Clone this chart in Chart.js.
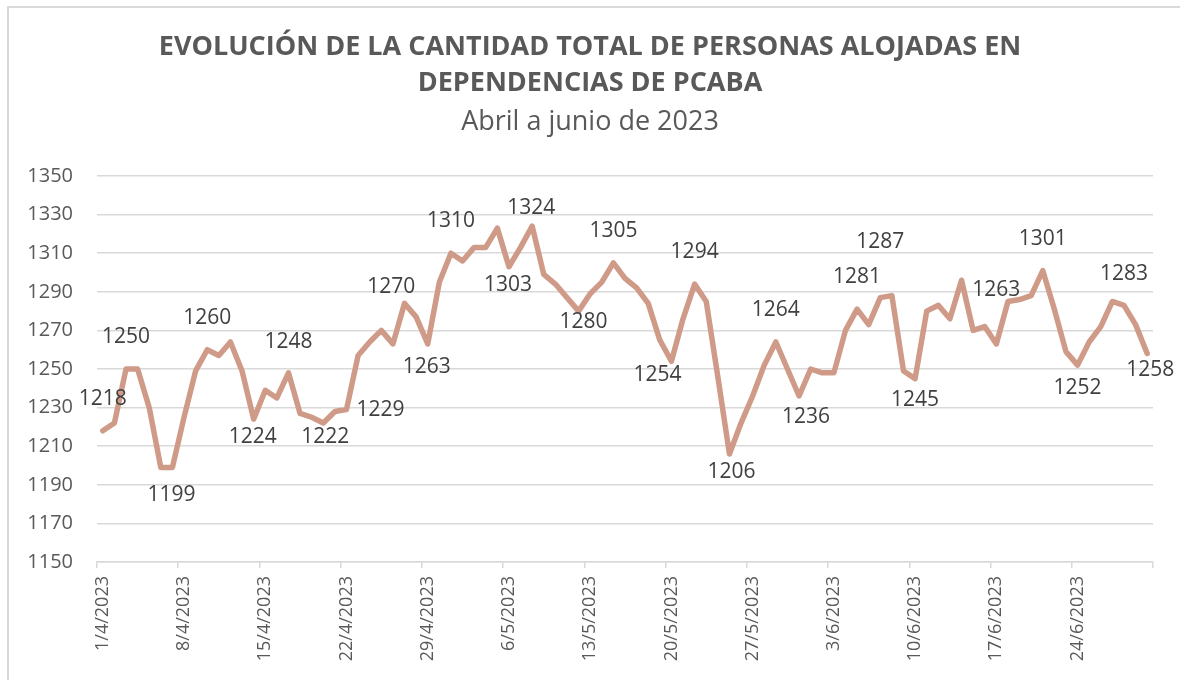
<!DOCTYPE html>
<html lang="es">
<head>
<meta charset="utf-8">
<title>Evolución de personas alojadas PCABA</title>
<script src="https://cdn.jsdelivr.net/npm/chart.js@4.4.1/dist/chart.umd.min.js"></script>
<style>
  html, body { margin: 0; padding: 0; background: #fff; overflow: hidden; }
  #frame {
    position: absolute; left: 7px; top: 6px; width: 1200px; height: 700px;
    border: 2px solid #d9d9d9; pointer-events: none;
  }
  #chart { position: absolute; left: 0; top: 0; }
</style>
</head>
<body>
<div id="frame"></div>
<canvas id="chart" width="1180" height="680"></canvas>
<script>
// Días del período (1/4/2023 - 30/6/2023)
const fechas = [
  '1/4/2023','2/4/2023','3/4/2023','4/4/2023','5/4/2023','6/4/2023','7/4/2023',
  '8/4/2023','9/4/2023','10/4/2023','11/4/2023','12/4/2023','13/4/2023','14/4/2023',
  '15/4/2023','16/4/2023','17/4/2023','18/4/2023','19/4/2023','20/4/2023','21/4/2023',
  '22/4/2023','23/4/2023','24/4/2023','25/4/2023','26/4/2023','27/4/2023','28/4/2023',
  '29/4/2023','30/4/2023','1/5/2023','2/5/2023','3/5/2023','4/5/2023','5/5/2023',
  '6/5/2023','7/5/2023','8/5/2023','9/5/2023','10/5/2023','11/5/2023','12/5/2023',
  '13/5/2023','14/5/2023','15/5/2023','16/5/2023','17/5/2023','18/5/2023','19/5/2023',
  '20/5/2023','21/5/2023','22/5/2023','23/5/2023','24/5/2023','25/5/2023','26/5/2023',
  '27/5/2023','28/5/2023','29/5/2023','30/5/2023','31/5/2023','1/6/2023','2/6/2023',
  '3/6/2023','4/6/2023','5/6/2023','6/6/2023','7/6/2023','8/6/2023','9/6/2023',
  '10/6/2023','11/6/2023','12/6/2023','13/6/2023','14/6/2023','15/6/2023','16/6/2023',
  '17/6/2023','18/6/2023','19/6/2023','20/6/2023','21/6/2023','22/6/2023','23/6/2023',
  '24/6/2023','25/6/2023','26/6/2023','27/6/2023','28/6/2023','29/6/2023','30/6/2023'
];

// Cantidad total de personas alojadas por día
const alojados = [
  1218, 1222, 1250, 1250, 1230, 1199, 1199, 1225, 1249, 1260, 1257, 1264, 1249, 1224,
  1239, 1235, 1248, 1227, 1225, 1222, 1228, 1229, 1257, 1264, 1270, 1263, 1284, 1277,
  1263, 1295, 1310, 1306, 1313, 1313, 1323, 1303, 1313, 1324, 1299, 1294, 1287, 1280,
  1289, 1295, 1305, 1297, 1292, 1284, 1265, 1254, 1276, 1294, 1285, 1246, 1206, 1222,
  1236, 1252, 1264, 1250, 1236, 1250, 1248, 1248, 1270, 1281, 1273, 1287, 1288, 1249,
  1245, 1280, 1283, 1276, 1296, 1270, 1272, 1263, 1285, 1286, 1288, 1301, 1281, 1259,
  1252, 1264, 1272, 1285, 1283, 1273, 1258
];

// Eje Y
const yMin = 1150;
const yMax = 1350;
const yPaso = 20;

// Días que llevan etiqueta de valor
const diasEtiquetados = [0, 2, 6, 9, 13, 16, 19, 21, 24, 28, 30, 35, 37, 41, 44, 49, 51, 54, 58, 60, 65, 67, 70, 77, 81, 84, 88, 90];

// Desplazamiento de cada etiqueta respecto del punto [dx, dy] en px
const desplazamientos = {
  0: [0, -32], 2: [0, -32], 6: [-1, 28], 9: [0, -32], 13: [-1, 18], 16: [0, -31],
  19: [2, 14], 21: [34, 0], 24: [10, -43], 28: [-1, 23], 30: [0, -32], 35: [-1, 18],
  37: [-1, -18], 41: [5, 11], 44: [0, -32], 49: [-14, 14], 51: [0, -32], 54: [2, 18],
  58: [0, -32], 60: [7, 21], 65: [0, -32], 67: [0, -56], 70: [0, 21], 77: [0, -54],
  81: [0, -32], 84: [0, 23], 88: [0, -31], 90: [3, 16]
};

const gris = '#595959';
const grilla = '#d9d9d9';

// Plugin propio para las etiquetas de datos
const etiquetasPlugin = {
  id: 'etiquetas',
  afterDatasetsDraw(chart) {
    const { ctx } = chart;
    const meta = chart.getDatasetMeta(0);
    ctx.save();
    ctx.font = '21px "Open Sans"';
    ctx.fillStyle = '#404040';
    ctx.textAlign = 'center';
    ctx.textBaseline = 'middle';
    diasEtiquetados.forEach((i) => {
      const pt = meta.data[i];
      const [dx, dy] = desplazamientos[i] || [0, -32];
      ctx.fillText(String(alojados[i]), pt.x + dx, pt.y + dy);
    });
    ctx.restore();
  }
};

new Chart(document.getElementById('chart'), {
  type: 'line',
  data: {
    labels: fechas,
    datasets: [{
      label: 'Personas alojadas',
      data: alojados,
      borderColor: '#cf9b88',
      borderWidth: 5.5,
      borderJoinStyle: 'round',
      borderCapStyle: 'round',
      pointRadius: 0,
      tension: 0,
      fill: false
    }]
  },
  options: {
    responsive: false,
    animation: false,
    // left/right iguales para que el título quede centrado en el lienzo
    layout: { padding: { left: 27, right: 27, top: 0, bottom: 0 } },
    plugins: {
      legend: { display: false },
      tooltip: { enabled: false },
      title: {
        display: true,
        text: ['EVOLUCIÓN DE LA CANTIDAD TOTAL DE PERSONAS ALOJADAS EN', 'DEPENDENCIAS DE PCABA'],
        color: gris,
        font: { family: '"Open Sans"', size: 27, weight: 'bold', lineHeight: '36px' },
        padding: { top: 29, bottom: 0 }
      },
      subtitle: {
        display: true,
        text: 'Abril a junio de 2023',
        color: gris,
        font: { family: '"Open Sans"', size: 27, weight: 'normal', lineHeight: '38px' },
        padding: { top: 2, bottom: 35 }
      }
    },
    scales: {
      x: {
        offset: true,
        grid: {
          offset: true,
          drawOnChartArea: false,
          drawTicks: true,
          tickLength: 6,
          lineWidth: 1.5,
          color: (c) => (c.index === undefined || c.index % 7 === 0) ? grilla : 'rgba(0,0,0,0)'
        },
        border: { display: true, color: grilla, width: 1.5 },
        ticks: {
          autoSkip: false,
          minRotation: 90,
          maxRotation: 90,
          padding: 8,
          color: gris,
          font: { family: '"Open Sans"', size: 18 },
          callback: (v, i) => (i % 7 === 0 ? fechas[i] : '')
        },
        afterFit: (scale) => { scale.height = 118; }
      },
      y: {
        min: yMin,
        max: yMax,
        grid: { color: grilla, lineWidth: 1.5, drawTicks: false },
        border: { display: false },
        ticks: {
          stepSize: yPaso,
          padding: 24,
          color: gris,
          font: { family: '"Open Sans"', size: 20 },
          callback: (v) => String(v)
        },
        afterFit: (scale) => { scale.width = 70; }
      }
    }
  },
  plugins: [etiquetasPlugin]
});
</script>
</body>
</html>
